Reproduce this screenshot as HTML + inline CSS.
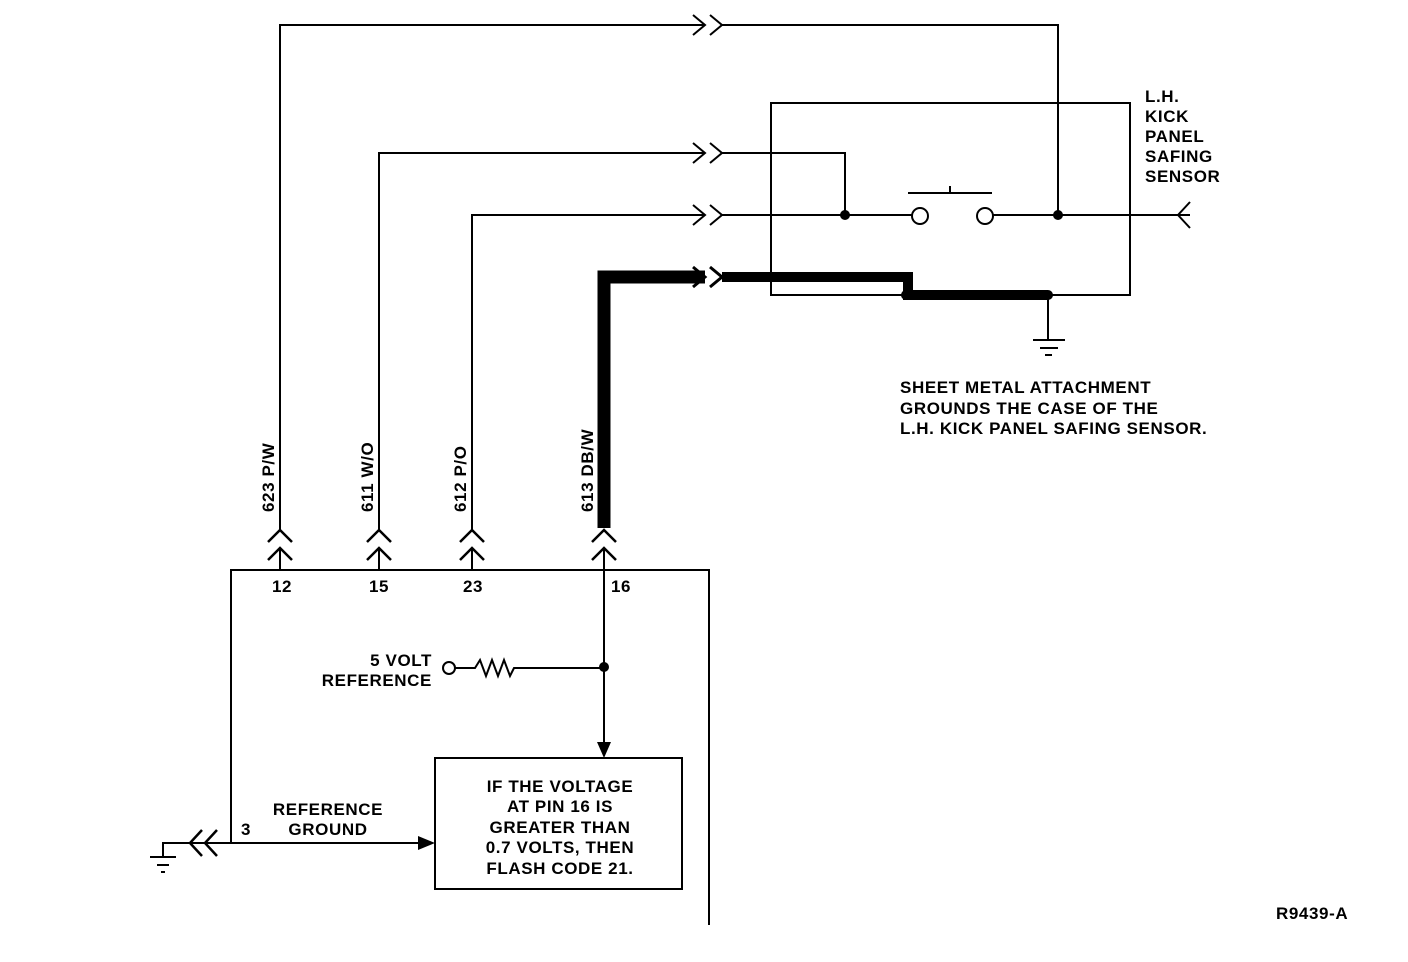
<!DOCTYPE html>
<html><head><style>body{margin:0;background:#fff}svg{display:block}text{font-family:"Liberation Sans",sans-serif;font-size:17px;font-weight:bold;letter-spacing:0.6px;fill:#000}</style></head><body>
<svg width="1408" height="962" viewBox="0 0 1408 962" xmlns="http://www.w3.org/2000/svg">
<g fill="none" stroke="#000" stroke-width="2">
<polyline points="280,530 280,25 705,25"/>
<polyline points="722,25 1058,25 1058,215"/>
<polyline points="693,15 705,25 693,35"/><polyline points="710,15 722,25 710,35"/>
<polyline points="379,530 379,153 705,153"/>
<polyline points="722,153 845,153 845,215"/>
<polyline points="693,143 705,153 693,163"/><polyline points="710,143 722,153 710,163"/>
<polyline points="472,530 472,215 705,215"/>
<polyline points="722,215 912,215"/>
<polyline points="693,205 705,215 693,225"/><polyline points="710,205 722,215 710,225"/>
<line x1="993" y1="215" x2="1190" y2="215"/>
<polyline points="1190,202 1178,215 1190,228"/>
<rect x="771" y="103" width="359" height="192"/>
<circle cx="920" cy="216" r="8" fill="#fff"/><circle cx="985" cy="216" r="8" fill="#fff"/>
<line x1="908" y1="193" x2="992" y2="193"/><line x1="950" y1="186" x2="950" y2="193"/>
<line x1="1048" y1="295" x2="1048" y2="340"/>
<line x1="1033" y1="340" x2="1065" y2="340"/><line x1="1040" y1="348" x2="1058" y2="348"/><line x1="1045" y1="355" x2="1052" y2="355"/>
<polyline points="604,528 604,277 705,277" stroke-width="13"/>
<polyline points="722,277 908,277 908,295 1048,295" stroke-width="10"/>
<polyline points="693,267 705,277 693,287" stroke-width="3"/><polyline points="710,267 722,277 710,287" stroke-width="3"/>
<g stroke-width="2.5">
<polyline points="268,542 280,530 292,542"/><polyline points="268,560 280,548 292,560"/>
<polyline points="367,542 379,530 391,542"/><polyline points="367,560 379,548 391,560"/>
<polyline points="460,542 472,530 484,542"/><polyline points="460,560 472,548 484,560"/>
<polyline points="592,542 604,530 616,542"/><polyline points="592,560 604,548 616,560"/>
</g>
<line x1="280" y1="548" x2="280" y2="570"/><line x1="379" y1="548" x2="379" y2="570"/><line x1="472" y1="548" x2="472" y2="570"/>
<line x1="604" y1="548" x2="604" y2="745"/>
<polyline points="231,843 231,570 709,570 709,925"/>
<rect x="435" y="758" width="247" height="131"/>
<circle cx="449" cy="668" r="6"/>
<polyline points="455,668 475,668 480,660 486,676 492,660 498,676 504,660 510,676 514,668 604,668"/>
<line x1="185" y1="843" x2="425" y2="843"/>
<polyline points="202,830 190,843 202,856" stroke-width="2.5"/><polyline points="217,830 205,843 217,856" stroke-width="2.5"/>
<polyline points="185,843 163,843 163,857"/>
<line x1="150" y1="857" x2="176" y2="857"/><line x1="157" y1="865" x2="169" y2="865"/><line x1="161" y1="872" x2="165" y2="872"/>
</g>
<g fill="#000">
<circle cx="845" cy="215" r="5"/><circle cx="1058" cy="215" r="5"/><circle cx="906" cy="295" r="5"/><circle cx="1048" cy="295" r="5"/>
<circle cx="604" cy="667" r="5"/>
<polygon points="597,742 611,742 604,758"/>
<polygon points="418,836 418,850 435,843"/>
</g>
<text x="1145" y="102">L.H.</text><text x="1145" y="122">KICK</text><text x="1145" y="142">PANEL</text><text x="1145" y="162">SAFING</text><text x="1145" y="182">SENSOR</text>
<text x="900" y="393">SHEET METAL ATTACHMENT</text><text x="900" y="414">GROUNDS THE CASE OF THE</text><text x="900" y="434">L.H. KICK PANEL SAFING SENSOR.</text>
<g style="font-size:16px">
<text transform="translate(274,512) rotate(-90)">623 P/W</text>
<text transform="translate(373,512) rotate(-90)">611 W/O</text>
<text transform="translate(466,512) rotate(-90)">612 P/O</text>
<text transform="translate(593,512) rotate(-90)">613 DB/W</text>
</g>
<text x="272" y="592">12</text><text x="369" y="592">15</text><text x="463" y="592">23</text><text x="611" y="592">16</text>
<text x="432" y="666" text-anchor="end">5 VOLT</text><text x="432" y="686" text-anchor="end">REFERENCE</text>
<text x="328" y="815" text-anchor="middle">REFERENCE</text><text x="328" y="835" text-anchor="middle">GROUND</text>
<text x="241" y="835">3</text>
<g text-anchor="middle"><text x="560" y="792">IF THE VOLTAGE</text><text x="560" y="812">AT PIN 16 IS</text><text x="560" y="833">GREATER THAN</text><text x="560" y="853">0.7 VOLTS, THEN</text><text x="560" y="874">FLASH CODE 21.</text></g>
<text x="1276" y="919">R9439-A</text>
</svg>
</body></html>
